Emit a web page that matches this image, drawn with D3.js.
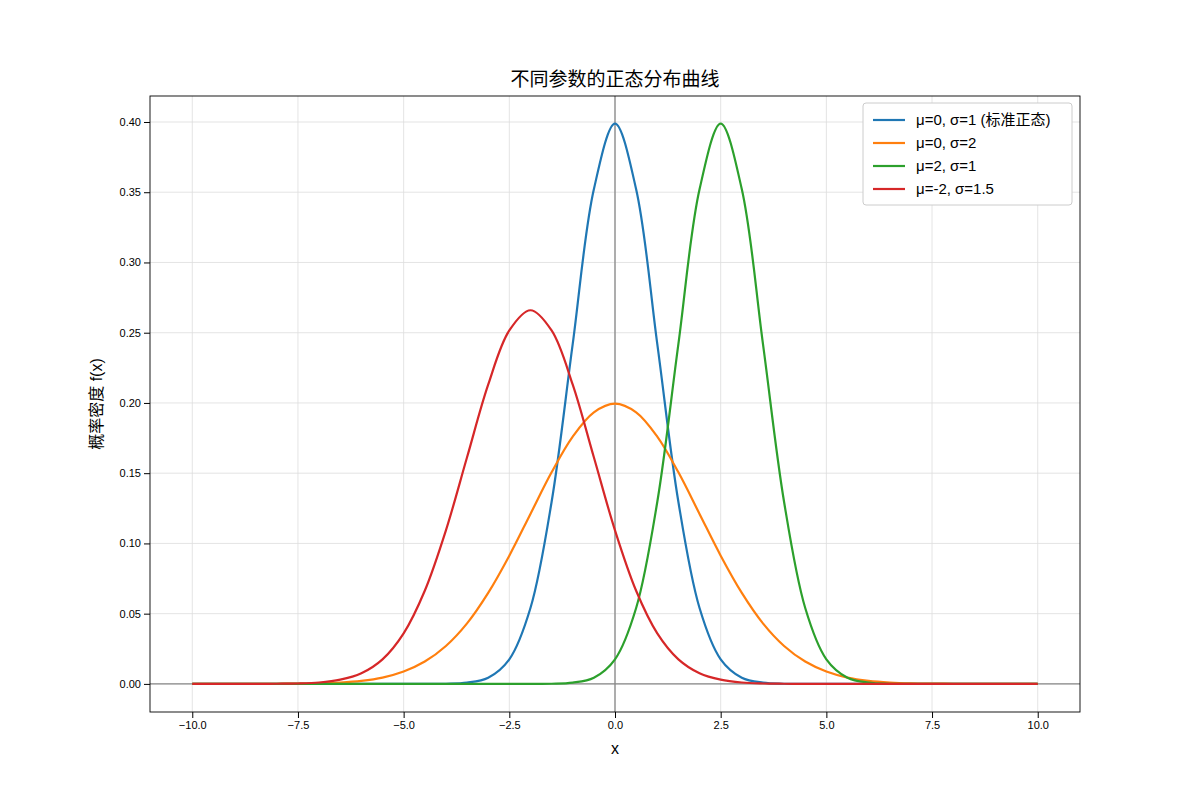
<!DOCTYPE html>
<html><head><meta charset="utf-8">
<script src="https://cdn.jsdelivr.net/npm/d3@7"></script>
<style>body{margin:0;background:#fff}text{font-family:"Liberation Sans","Noto Sans CJK SC",sans-serif}</style>
</head><body><svg id="c" width="1200" height="800"></svg>
<script>
const xValues = d3.range(41).map(i => -10 + 0.5 * i);
const xTicks = [-10, -7.5, -5, -2.5, 0, 2.5, 5, 7.5, 10];
const yTicks = [0, 0.05, 0.1, 0.15, 0.2, 0.25, 0.3, 0.35, 0.4];
const seriesNames = ["μ=0, σ=1 (标准正态)", "μ=0, σ=2", "μ=2, σ=1", "μ=-2, σ=1.5"];
const seriesColors = ["#1f77b4", "#ff7f0e", "#2ca02c", "#d62728"];
const s1 = [0,0,0,0,0,0,0,0,0,0,0,0,0.0001,0.0009,0.0044,0.0175,0.054,0.1295,0.242,0.3521,0.3989,0.3521,0.242,0.1295,0.054,0.0175,0.0044,0.0009,0.0001,0,0,0,0,0,0,0,0,0,0,0,0];
const s2 = [0,0,0,0,0.0001,0.0002,0.0004,0.001,0.0022,0.0045,0.0088,0.0159,0.027,0.0431,0.0648,0.0913,0.121,0.1506,0.176,0.1933,0.1995,0.1933,0.176,0.1506,0.121,0.0913,0.0648,0.0431,0.027,0.0159,0.0088,0.0045,0.0022,0.001,0.0004,0.0002,0.0001,0,0,0,0];
const s3 = [0,0,0,0,0,0,0,0,0,0,0,0,0,0,0,0,0,0.0001,0.0009,0.0044,0.0175,0.054,0.1295,0.242,0.3521,0.3989,0.3521,0.242,0.1295,0.054,0.0175,0.0044,0.0009,0.0001,0,0,0,0,0,0,0];
const s4 = [0,0,0,0,0.0001,0.0003,0.001,0.003,0.0076,0.0175,0.036,0.0663,0.1093,0.1613,0.213,0.2516,0.266,0.2516,0.213,0.1613,0.1093,0.0663,0.036,0.0175,0.0076,0.003,0.001,0.0003,0.0001,0,0,0,0,0,0,0,0,0,0,0,0];
const series = [s1, s2, s3, s4];

const svg = d3.select("#c");
const L=150,R=1080,T=96,B=712;
const x = d3.scaleLinear().domain([-11,11]).range([L,R]);
const y = d3.scaleLinear().domain([-0.02,0.4185]).range([B,T]);
const g = svg.append("g");
xTicks.forEach(t=>g.append("line").attr("x1",x(t)).attr("x2",x(t)).attr("y1",T).attr("y2",B).attr("stroke","#ddd").attr("stroke-width",0.8));
yTicks.forEach(t=>g.append("line").attr("y1",y(t)).attr("y2",y(t)).attr("x1",L).attr("x2",R).attr("stroke","#ddd").attr("stroke-width",0.8));
g.append("line").attr("x1",x(0)).attr("x2",x(0)).attr("y1",T).attr("y2",B).attr("stroke","#888").attr("stroke-width",1.3);
g.append("line").attr("y1",y(0)).attr("y2",y(0)).attr("x1",L).attr("x2",R).attr("stroke","#888").attr("stroke-width",1.3);
const line = d3.line().x((d,i)=>x(xValues[i])).y(d=>y(d)).curve(d3.curveCatmullRom.alpha(0.5));
series.forEach((s,k)=>svg.append("path").attr("d",line(s)).attr("fill","none").attr("stroke",seriesColors[k]).attr("stroke-width",2.2));
svg.append("rect").attr("x",L).attr("y",T).attr("width",R-L).attr("height",B-T).attr("fill","none").attr("stroke","#000").attr("stroke-width",0.9);
svg.append("g").attr("transform",`translate(0,${B})`).call(d3.axisBottom(x).tickValues(xTicks).tickFormat(d3.format(".1f")).tickSizeOuter(0)).call(a=>{a.select(".domain").remove();a.selectAll("text").attr("font-size",11).attr("fill","#000")});
svg.append("g").attr("transform",`translate(${L},0)`).call(d3.axisLeft(y).tickValues(yTicks).tickFormat(d3.format(".2f")).tickSizeOuter(0)).call(a=>{a.select(".domain").remove();a.selectAll("text").attr("font-size",11).attr("fill","#000")});
svg.append("text").attr("x",(L+R)/2).attr("y",86).attr("text-anchor","middle").attr("font-size",19).text("不同参数的正态分布曲线");
svg.append("text").attr("x",(L+R)/2).attr("y",754).attr("text-anchor","middle").attr("font-size",16).text("x");
svg.append("text").attr("transform",`translate(102,${(T+B)/2}) rotate(-90)`).attr("text-anchor","middle").attr("font-size",16).text("概率密度 f(x)");
const lg = svg.append("g");
lg.append("rect").attr("x",863).attr("y",103).attr("width",209).attr("height",102).attr("rx",3).attr("fill","#fff").attr("stroke","#ccc");
seriesNames.forEach((n,k)=>{const yy=120+k*23;
 lg.append("line").attr("x1",873).attr("x2",905).attr("y1",yy).attr("y2",yy).attr("stroke",seriesColors[k]).attr("stroke-width",2.2);
 lg.append("text").attr("x",916).attr("y",yy+5).attr("font-size",15).text(n);});
</script></body></html>
